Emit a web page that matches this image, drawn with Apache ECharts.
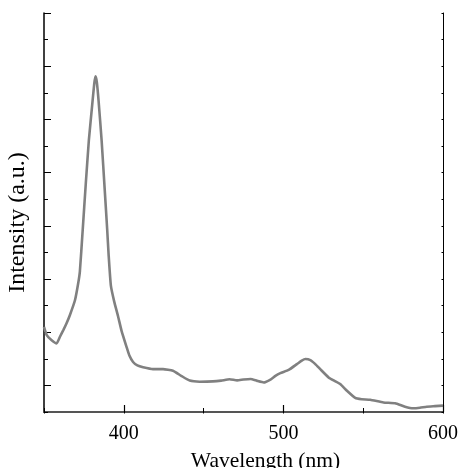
<!DOCTYPE html>
<html>
<head>
    <meta charset="utf-8">
    <title>Spectrum</title>
    <script src="https://cdn.jsdelivr.net/npm/echarts@6/dist/echarts.min.js"></script>
    <style>
        html, body { margin: 0; padding: 0; background: #fff; }
    </style>
</head>
<body>
    <div id="chart" style="width:462px;height:468px"></div>
<script>
    // wavelength (nm) and intensity (a.u.)
    var wavelength = [350, 351.7, 354.8, 357.9, 360, 362.1, 364, 366.2, 369.4, 371.4,
        372.5, 374.2, 376.2, 378.1, 380.2, 381.5, 382.3, 383.1, 384.2, 386.1,
        388, 389.6, 390.5, 391.9, 394, 396.4, 398.6, 401.7, 403.5, 405.8,
        408.5, 412.1, 418.3, 424.6, 430.8, 436, 441.3, 447.5, 455.8, 461,
        466.3, 471, 475, 479.4, 483.5, 487.7, 491.9, 495, 498.1, 503.3,
        508.5, 511.5, 513.8, 516.9, 520, 523.1, 528.3, 532, 535.6, 539.8,
        545, 549, 554.4, 562.7, 570, 576.2, 581.4, 585.5, 589.8, 595, 600];
    var intensity = [3.20, 2.89, 2.70, 2.58, 2.83, 3.08, 3.32, 3.64, 4.20, 4.83,
        5.30, 6.80, 8.60, 10.21, 11.55, 12.35, 12.62, 12.40, 11.70, 10.21,
        8.40, 6.85, 5.90, 4.75, 4.15, 3.60, 3.05, 2.45, 2.12, 1.88,
        1.75, 1.68, 1.61, 1.61, 1.55, 1.36, 1.18, 1.14, 1.15, 1.18,
        1.23, 1.19, 1.22, 1.24, 1.17, 1.11, 1.22, 1.36, 1.46, 1.58,
        1.80, 1.93, 1.99, 1.95, 1.80, 1.61, 1.30, 1.17, 1.05, 0.80,
        0.53, 0.48, 0.46, 0.36, 0.33, 0.20, 0.14, 0.16, 0.20, 0.22, 0.24];
    var xMajorTicks = [400, 500, 600];
    var yMajorTicks = [1, 3, 5, 7, 9, 11, 13, 15];

    var serif = "'Liberation Serif', 'Times New Roman', serif";
    var points = [];
    for (var i = 0; i < wavelength.length; i++) {
        points.push([wavelength[i], intensity[i]]);
    }

    var chart = echarts.init(document.getElementById('chart'));
    var option = {
        animation: false,
        backgroundColor: '#fff',
        grid: { left: 44, right: 19, top: 13, bottom: 56, containLabel: false, outerBoundsMode: 'none' },
        xAxis: [
            {
                type: 'value', position: 'bottom', min: 350, max: 600, interval: 50,
                axisLine: { lineStyle: { color: '#000', width: 1.5 } },
                axisTick: { inside: true, length: 4, lineStyle: { color: '#000', width: 1 } },
                axisLabel: {
                    color: '#000', fontFamily: serif, fontSize: 20, margin: 12,
                    formatter: function (v) { return xMajorTicks.indexOf(v) >= 0 ? String(v) : ''; }
                },
                splitLine: { show: false },
                name: 'Wavelength (nm)', nameLocation: 'middle', nameGap: 38,
                nameTextStyle: { color: '#000', fontFamily: serif, fontSize: 21.5, padding: [0, 0, 0, 44] }
            },
            {
                type: 'value', position: 'bottom', min: 350, max: 600,
                axisLine: { show: false },
                axisTick: { inside: true, length: 7, customValues: xMajorTicks, lineStyle: { color: '#000', width: 1.2 } },
                axisLabel: { show: false },
                splitLine: { show: false }
            },
            {
                type: 'value', position: 'top', min: 350, max: 600, interval: 50,
                axisLine: { lineStyle: { color: '#555', width: 2 } },
                axisTick: { inside: true, length: 1.5, lineStyle: { color: '#000' } },
                axisLabel: { show: false },
                splitLine: { show: false }
            }
        ],
        yAxis: [
            {
                type: 'value', position: 'left', min: 0, max: 15, interval: 1,
                axisLine: { show: true, lineStyle: { color: '#000', width: 1.5 } },
                axisTick: { show: true, inside: true, length: 4, lineStyle: { color: '#000', width: 1 } },
                axisLabel: { show: false },
                splitLine: { show: false },
                name: 'Intensity (a.u.)', nameLocation: 'middle', nameGap: 14,
                nameTextStyle: { color: '#000', fontFamily: serif, fontSize: 24, padding: [0, 20, 0, 0] }
            },
            {
                type: 'value', position: 'left', min: 0, max: 15,
                axisLine: { show: false },
                axisTick: { show: true, inside: true, length: 7, customValues: yMajorTicks, lineStyle: { color: '#000', width: 1 } },
                axisLabel: { show: false },
                splitLine: { show: false }
            },
            {
                type: 'value', position: 'right', min: 0, max: 15, interval: 1,
                axisLine: { show: true, lineStyle: { color: '#000', width: 1 } },
                axisTick: { show: true, inside: true, length: 1.5, lineStyle: { color: '#000' } },
                axisLabel: { show: false },
                splitLine: { show: false }
            }
        ],
        series: [
            {
                type: 'line',
                xAxisIndex: 0,
                yAxisIndex: 0,
                data: points,
                smooth: 0.15,
                showSymbol: false,
                lineStyle: { color: '#808080', width: 2.6 }
            }
        ]
    };
    chart.setOption(option);
</script>
</body>
</html>
